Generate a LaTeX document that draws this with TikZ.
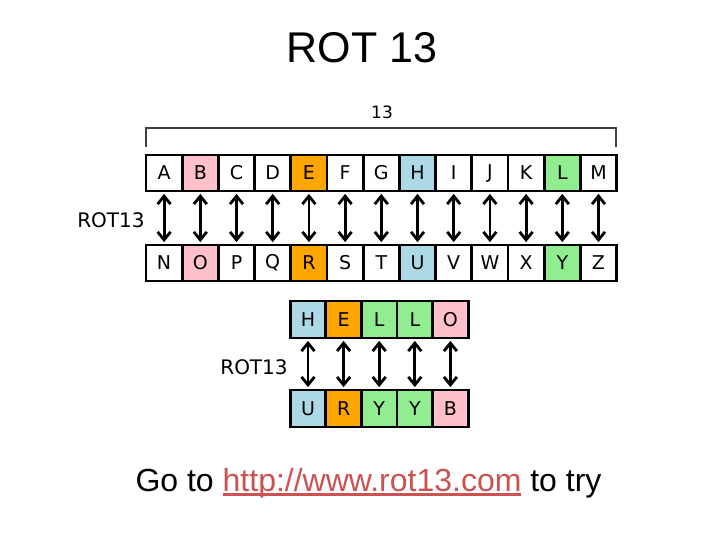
\documentclass[tikz,border=0pt]{standalone}
\usepackage{fontspec}
\setmainfont{Liberation Sans}
\newfontfamily\diagfont{DejaVu Sans}
\usetikzlibrary{arrows.meta}
\definecolor{cpink}{HTML}{FFC0CB}
\definecolor{corange}{HTML}{FFA500}
\definecolor{cblue}{HTML}{ADD8E6}
\definecolor{cgreen}{HTML}{90EE90}
\definecolor{linkred}{RGB}{204,82,82}
\newsavebox\linkbox
\tikzset{
  letterbox/.style={draw=black, line width=2.8pt, minimum width=36.2pt, minimum height=36pt,
    inner sep=0pt, font=\diagfont\fontsize{19}{19}\selectfont, anchor=center},
  swaparrow/.style={line width=2.8pt, {Straight Barb[length=8pt,width=13pt]}-{Straight Barb[length=8pt,width=13pt]}, shorten <=1.5pt, shorten >=1.5pt},
  lbl/.style={font=\diagfont\fontsize{20}{20}\selectfont, inner sep=0pt},
}
\begin{document}
\begin{tikzpicture}[x=1pt,y=-1pt]
\useasboundingbox (0,0) rectangle (720,540);
\fill[white] (0,0) rectangle (720,540);
% title
\node[anchor=base, font=\fontsize{43}{43}\selectfont, inner sep=0pt] (title) at (362,63) {ROT 13};
% bracket
\coordinate (brl) at (146,147);
\coordinate (brr) at (616,147);
\draw[line width=1.6pt, draw=black!75] (brl) -- (146,128) -- (616,128) -- (brr);
\node[lbl, font=\diagfont\fontsize{17}{17}\selectfont] (thirteen) at (382,112) {13};
% alphabet rows
\foreach \L/\M/\c [count=\i from 0] in {A/N/white,B/O/cpink,C/P/white,D/Q/white,E/R/corange,F/S/white,G/T/white,H/U/cblue,I/V/white,J/W/white,K/X/white,L/Y/cgreen,M/Z/white}{
  \node[letterbox, fill=\c] (t\i) at ({164.1+36.2*\i},173) {\L};
  \node[letterbox, fill=\c] (b\i) at ({164.1+36.2*\i},263) {\M};
}
\foreach \i in {0,...,12}{
  \draw[swaparrow] (t\i.south) -- (b\i.north);
}
\node[lbl] (rotA) at (111,220) {ROT13};
% hello rows
\foreach \L/\M/\c [count=\i from 0] in {H/U/cblue,E/R/corange,L/Y/cgreen,L/Y/cgreen,O/B/cpink}{
  \node[letterbox, fill=\c, minimum width=35.6pt, minimum height=37pt] (h\i) at ({308+35.6*\i},319.5) {\L};
  \node[letterbox, fill=\c, minimum width=35.6pt, minimum height=37pt] (u\i) at ({308+35.6*\i},408.5) {\M};
}
\foreach \i in {0,...,4}{
  \draw[swaparrow] (h\i.south) -- (u\i.north);
}
\node[lbl] (rotB) at (254,367) {ROT13};
% footer
\node[anchor=base, font=\fontsize{32}{32}\selectfont, inner sep=0pt] (foot) at (368.5,491) {Go to {\color{linkred}\sbox\linkbox{http://www.rot13.com}\rlap{\rule[-4.8pt]{\wd\linkbox}{2.6pt}}\usebox\linkbox} to try};
\end{tikzpicture}
\end{document}
